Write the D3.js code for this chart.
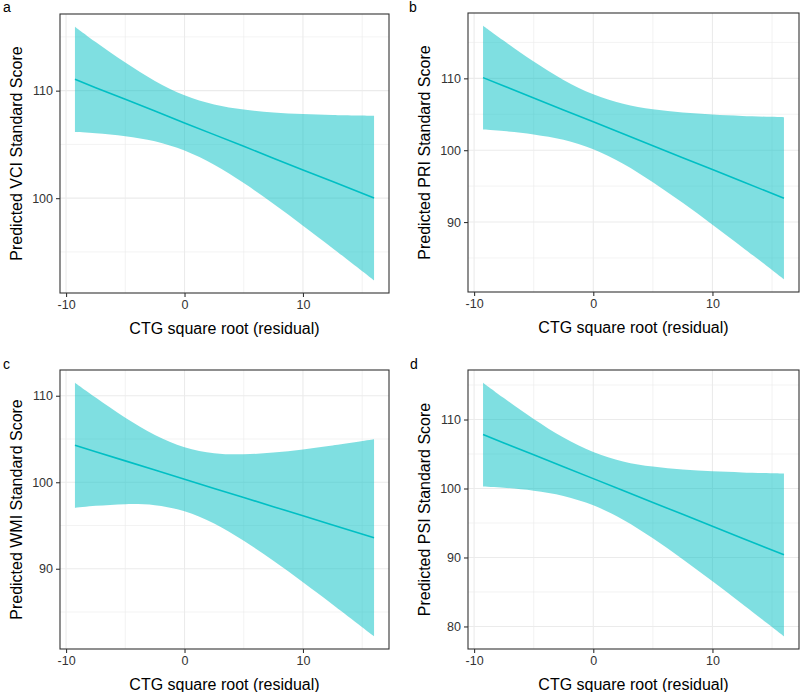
<!DOCTYPE html>
<html><head><meta charset="utf-8">
<script src="https://cdn.jsdelivr.net/npm/d3@7"></script>
<style>body{margin:0;background:#fff}svg{display:block;font-family:"Liberation Sans",Arial,sans-serif}</style>
</head><body><svg id="c" width="800" height="692"></svg>
<script>
// CTG square root (residual) sample positions
const xs = [-9.25, -7.5, -5, -2.5, 0, 2.5, 5, 7.5, 10, 12.5, 16];
const xTicks = [-10, 0, 10];

// a: VCI
const vciFit   = [111.05, 110.28, 109.19, 108.10, 107.00, 105.91, 104.82, 103.72, 102.63, 101.54, 100.01];
const vciUpper = [115.95, 114.52, 112.61, 110.90, 109.57, 108.71, 108.24, 107.96, 107.82, 107.73, 107.66];
const vciLower = [106.15, 106.04, 105.77, 105.30, 104.43, 103.11, 101.40, 99.48, 97.44, 95.35, 92.36];
const vciTicks = [100, 110];

// b: PRI
const priFit   = [110.10, 108.94, 107.27, 105.61, 103.95, 102.29, 100.62, 98.96, 97.30, 95.64, 93.31];
const priUpper = [117.33, 115.22, 112.34, 109.78, 107.78, 106.46, 105.69, 105.24, 104.96, 104.77, 104.59];
const priLower = [102.87, 102.66, 102.20, 101.44, 100.12, 98.12, 95.55, 92.68, 89.64, 86.51, 82.03];
const priTicks = [90, 100, 110];

// c: WMI
const wmiFit   = [104.27, 103.53, 102.47, 101.41, 100.35, 99.29, 98.23, 97.18, 96.12, 95.06, 93.58];
const wmiUpper = [111.51, 109.79, 107.47, 105.47, 104.05, 103.35, 103.23, 103.44, 103.80, 104.25, 104.97];
const wmiLower = [97.03, 97.27, 97.47, 97.35, 96.65, 95.23, 93.23, 90.92, 88.44, 85.87, 82.19];
const wmiTicks = [90, 100, 110];

// d: PSI
const psiFit   = [107.82, 106.61, 104.88, 103.16, 101.43, 99.70, 97.98, 96.25, 94.52, 92.79, 90.38];
const psiUpper = [115.34, 113.11, 110.08, 107.39, 105.29, 103.93, 103.18, 102.75, 102.49, 102.33, 102.19];
const psiLower = [100.30, 100.11, 99.68, 98.93, 97.57, 95.47, 92.78, 89.75, 86.55, 83.25, 78.57];
const psiTicks = [80, 90, 100, 110];

const xTitle = "CTG square root (residual)";

const panels = [
  {letter:"a", title:"Predicted VCI Standard Score", fit:vciFit, lo:vciLower, hi:vciUpper, ticks:vciTicks, box:[60,14,389,293], lx:3, ly:12},
  {letter:"b", title:"Predicted PRI Standard Score", fit:priFit, lo:priLower, hi:priUpper, ticks:priTicks, box:[468,13,799,292], lx:409, ly:12},
  {letter:"c", title:"Predicted WMI Standard Score", fit:wmiFit, lo:wmiLower, hi:wmiUpper, ticks:wmiTicks, box:[60,370,389,649], lx:3, ly:369},
  {letter:"d", title:"Predicted PSI Standard Score", fit:psiFit, lo:psiLower, hi:psiUpper, ticks:psiTicks, box:[468,370,799,649], lx:410, ly:369}
];

const svg = d3.select("#c");
const expand = ([a,b]) => { const p=(b-a)*0.05; return [a-p,b+p]; };

panels.forEach(p => {
  const [x0,y0,x1,y1] = p.box;
  const xd = expand(d3.extent(xs));
  const yd = expand([d3.min(p.lo), d3.max(p.hi)]);
  const x = d3.scaleLinear().domain(xd).range([x0,x1]);
  const y = d3.scaleLinear().domain(yd).range([y1,y0]);
  const g = svg.append("g");

  // minor grid
  const xMinor = d3.range(-15, 25, 10).filter(v => v>xd[0] && v<xd[1]);
  const yMinor = d3.range(65, 125, 10).filter(v => v>yd[0] && v<yd[1]);
  g.selectAll(".vx").data(xMinor).join("line").attr("x1",d=>x(d)).attr("x2",d=>x(d)).attr("y1",y0).attr("y2",y1).attr("stroke","#EBEBEB").attr("stroke-width",0.6);
  g.selectAll(".hy").data(yMinor).join("line").attr("y1",d=>y(d)).attr("y2",d=>y(d)).attr("x1",x0).attr("x2",x1).attr("stroke","#EBEBEB").attr("stroke-width",0.6);
  // major grid
  g.append("g").selectAll("line").data(xTicks).join("line").attr("x1",d=>x(d)).attr("x2",d=>x(d)).attr("y1",y0).attr("y2",y1).attr("stroke","#EBEBEB").attr("stroke-width",1.1);
  g.append("g").selectAll("line").data(p.ticks).join("line").attr("y1",d=>y(d)).attr("y2",d=>y(d)).attr("x1",x0).attr("x2",x1).attr("stroke","#EBEBEB").attr("stroke-width",1.1);

  const pts = xs.map((v,i)=>({x:v, fit:p.fit[i], lo:p.lo[i], hi:p.hi[i]}));
  const area = d3.area().x(d=>x(d.x)).y0(d=>y(d.lo)).y1(d=>y(d.hi)).curve(d3.curveCatmullRom);
  g.append("path").datum(pts).attr("d",area).attr("fill","#00BFC4").attr("fill-opacity",0.5);
  const line = d3.line().x(d=>x(d.x)).y(d=>y(d.fit));
  g.append("path").datum(pts).attr("d",line).attr("fill","none").attr("stroke","#00BFC4").attr("stroke-width",1.6);

  // border
  g.append("rect").attr("x",x0).attr("y",y0).attr("width",x1-x0).attr("height",y1-y0).attr("fill","none").attr("stroke","#333333").attr("stroke-width",1.1);

  // axes
  const fmt = d => String(d);
  const ax = g.append("g").attr("transform",`translate(0,${y1})`).call(d3.axisBottom(x).tickValues(xTicks).tickSize(4).tickPadding(3).tickFormat(fmt));
  const ay = g.append("g").attr("transform",`translate(${x0},0)`).call(d3.axisLeft(y).tickValues(p.ticks).tickSize(4).tickPadding(3).tickFormat(fmt));
  [ax,ay].forEach(a=>{
    a.select(".domain").remove();
    a.selectAll(".tick line").attr("stroke","#333333").attr("stroke-width",1.1);
    a.selectAll(".tick text").attr("fill","#333333").style("font-size","12.5px").style("font-family","Liberation Sans, Arial, sans-serif");
  });

  // titles
  g.append("text").attr("x",(x0+x1)/2).attr("y",y1+41).attr("text-anchor","middle").style("font-size","16px").attr("fill","#000").text(xTitle);
  g.append("text").attr("transform",`translate(${x0-38},${(y0+y1)/2}) rotate(-90)`).attr("text-anchor","middle").style("font-size","16px").attr("fill","#000").text(p.title);
  g.append("text").attr("x",p.lx).attr("y",p.ly).style("font-size","14px").attr("fill","#000").text(p.letter);
});
</script></body></html>
